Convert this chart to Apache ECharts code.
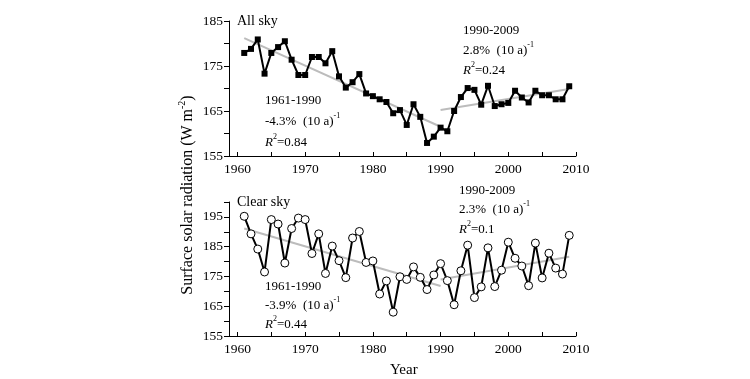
<!DOCTYPE html>
<html><head><meta charset="utf-8">
<script src="https://cdn.jsdelivr.net/npm/echarts@6/dist/echarts.min.js"></script>
<style>html,body{margin:0;padding:0;background:#fff}#c{width:750px;height:379px}</style>
</head><body><div id="c"></div>
<script>
const years = [1961,1962,1963,1964,1965,1966,1967,1968,1969,1970,1971,1972,1973,1974,1975,1976,1977,1978,1979,1980,1981,1982,1983,1984,1985,1986,1987,1988,1989,1990,1991,1992,1993,1994,1995,1996,1997,1998,1999,2000,2001,2002,2003,2004,2005,2006,2007,2008,2009];
const allSky = [177.9,178.8,180.9,173.3,177.9,179.2,180.5,176.4,173.0,173.0,
  177.0,177.0,175.6,178.3,172.7,170.2,171.4,173.2,168.9,168.3,
  167.6,167.0,164.5,165.2,161.9,166.5,163.7,157.9,159.3,161.3,
  160.5,165.0,168.1,170.1,169.7,166.4,170.6,166.1,166.5,166.8,
  169.5,168.0,166.9,169.5,168.5,168.5,167.6,167.6,170.5];
const clearSky = [195.2,189.3,184.2,176.5,194.1,192.6,179.5,191.1,194.6,194.1,
  182.7,189.3,176.0,185.2,180.3,174.6,187.9,190.1,179.7,180.2,
  169.1,173.5,163.0,174.9,174.0,178.2,174.7,170.6,175.5,179.3,
  173.6,165.5,176.9,185.5,167.9,171.5,184.6,171.6,177.1,186.5,
  181.1,178.5,171.9,186.2,174.5,182.8,177.8,175.8,188.8];
const trendYears1 = [1961, 1990];
const trendYears2 = [1990, 2009];
const allTrend1 = [181.2, 161.5];
const allTrend2 = [165.2, 169.9];
const clearTrend1 = [191.1, 171.8];
const clearTrend2 = [174.0, 181.6];
const xLabels = [1960,1970,1980,1990,2000,2010];
const xTicks = [1960,1965,1970,1975,1980,1985,1990,1995,2000,2005,2010];
const yLabelsTop = [155,165,175,185];
const yTicksTop = [155,160,165,170,175,180,185];
const yLabelsBot = [155,165,175,185,195];
const yTicksBot = [155,160,165,170,175,180,185,190,195,200];

const F = 'Liberation Serif';
const zip = (xs, ys) => xs.map((x, i) => [x, ys[i]]);

function xAxis(gi){
  return {type:'value', gridIndex:gi, min:1958.75, max:2010,
    axisLine:{show:true, onZero:false, lineStyle:{color:'#000', width:1}},
    axisTick:{show:true, inside:true, length:4, customValues:xTicks, lineStyle:{color:'#000'}},
    axisLabel:{customValues:xLabels, formatter:(v)=>String(Math.round(v)), color:'#000', fontFamily:F, fontSize:13.5, margin:6},
    splitLine:{show:false}};
}
function yAxis(gi, mn, mx, labs, ticks){
  return {type:'value', gridIndex:gi, min:mn, max:mx,
    axisLine:{show:true, onZero:false, lineStyle:{color:'#000', width:1}},
    axisTick:{show:true, inside:false, length:5, customValues:ticks, lineStyle:{color:'#000'}},
    axisLabel:{customValues:labs, formatter:(v)=>String(Math.round(v)), color:'#000', fontFamily:F, fontSize:13.5, margin:6},
    splitLine:{show:false}};
}
const trendStyle = {type:'line', symbol:'none', lineStyle:{color:'#bcbcbc', width:2}, z:1, silent:true};
const rich = {
  n:{fontFamily:F, fontSize:13, lineHeight:20, color:'#000'},
  i:{fontFamily:F, fontSize:13, lineHeight:20, color:'#000', fontStyle:'italic'},
  s:{fontFamily:F, fontSize:8, lineHeight:8, color:'#000', verticalAlign:'top'}
};
const richY = {
  n:{fontFamily:F, fontSize:16, lineHeight:22, color:'#000'},
  s:{fontFamily:F, fontSize:10, lineHeight:10, color:'#000', verticalAlign:'top'}
};
function txt(x, y, t){
  return {type:'text', x:x, y:y, style:{text:t, rich:rich, align:'left', verticalAlign:'middle', fontFamily:F, fontSize:13, fill:'#000'}};
}

const chart = echarts.init(document.getElementById('c'));
chart.setOption({
  animation:false,
  backgroundColor:'#fff',
  grid:[{left:229, top:21, width:347, height:135},{left:229, top:202, width:347, height:134}],
  xAxis:[xAxis(0), xAxis(1)],
  yAxis:[yAxis(0,155,185,yLabelsTop,yTicksTop), yAxis(1,155,200,yLabelsBot,yTicksBot)],
  series:[
    Object.assign({xAxisIndex:0, yAxisIndex:0, data:zip(trendYears1, allTrend1)}, trendStyle),
    Object.assign({xAxisIndex:0, yAxisIndex:0, data:zip(trendYears2, allTrend2)}, trendStyle),
    Object.assign({xAxisIndex:1, yAxisIndex:1, data:zip(trendYears1, clearTrend1)}, trendStyle),
    Object.assign({xAxisIndex:1, yAxisIndex:1, data:zip(trendYears2, clearTrend2)}, trendStyle),
    {type:'line', xAxisIndex:0, yAxisIndex:0, data:zip(years, allSky), z:3,
      symbol:'rect', symbolSize:6, showSymbol:true,
      lineStyle:{color:'#000', width:2}, itemStyle:{color:'#000'}},
    {type:'line', xAxisIndex:1, yAxisIndex:1, data:zip(years, clearSky), z:3,
      symbol:'circle', symbolSize:8, showSymbol:true,
      lineStyle:{color:'#000', width:2}, itemStyle:{color:'#fff', borderColor:'#000', borderWidth:1}}
  ],
  graphic:[
    {type:'text', x:237, y:21, style:{text:'All sky', fontFamily:F, fontSize:14, fill:'#000', align:'left', verticalAlign:'middle'}},
    {type:'text', x:237, y:202, style:{text:'Clear sky', fontFamily:F, fontSize:14, fill:'#000', align:'left', verticalAlign:'middle'}},
    txt(265, 101, '{n|1961-1990}'),
    txt(265, 122, '{n|-4.3%  (10 a)}{s|-1}'),
    txt(265, 143, '{i|R}{s|2}{n|=0.84}'),
    txt(463, 31, '{n|1990-2009}'),
    txt(463, 51, '{n|2.8%  (10 a)}{s|-1}'),
    txt(463, 71, '{i|R}{s|2}{n|=0.24}'),
    txt(265, 287, '{n|1961-1990}'),
    txt(265, 306, '{n|-3.9%  (10 a)}{s|-1}'),
    txt(265, 325, '{i|R}{s|2}{n|=0.44}'),
    txt(459, 191, '{n|1990-2009}'),
    txt(459, 210, '{n|2.3%  (10 a)}{s|-1}'),
    txt(459, 230, '{i|R}{s|2}{n|=0.1}'),
    {type:'text', x:390, y:370, style:{text:'Year', fontFamily:F, fontSize:15, fill:'#000', align:'left', verticalAlign:'middle'}},
    {type:'text', x:188, y:195, rotation:Math.PI/2, style:{text:'{n|Surface solar radiation (W m}{s|-2}{n|)}', rich:richY, align:'center', verticalAlign:'middle', fill:'#000'}}
  ]
});
</script></body></html>
